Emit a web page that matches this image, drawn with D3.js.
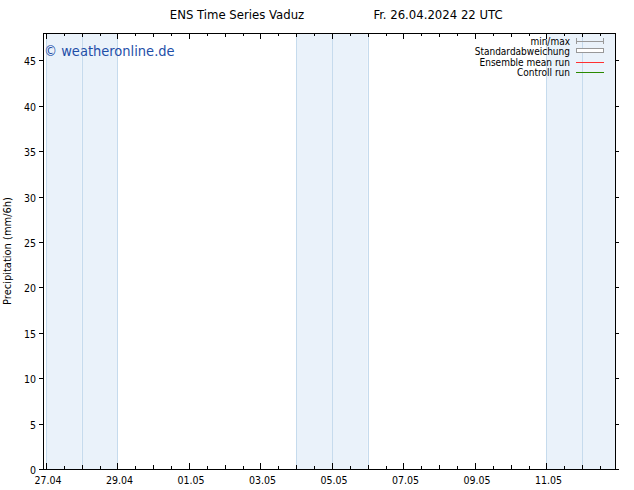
<!DOCTYPE html>
<html><head><meta charset="utf-8">
<script src="https://cdn.jsdelivr.net/npm/d3@7"></script>
<style>
body{margin:0;background:#fff;}
text{font-family:"DejaVu Sans Condensed","DejaVu Sans",sans-serif;}
</style></head>
<body><svg id="c" width="634" height="490"></svg>
<script>
const title = "ENS Time Series Vaduz";
const runTime = "Fr. 26.04.2024 22 UTC";
const yLabel = "Precipitation (mm/6h)";
const startTime = "2024-04-26T22:00";
const endTime = "2024-05-12T22:00";
const xTickLabels = ["27.04","29.04","01.05","03.05","05.05","07.05","09.05","11.05"];
const xTickDates = ["2024-04-27","2024-04-29","2024-05-01","2024-05-03","2024-05-05","2024-05-07","2024-05-09","2024-05-11"];
const yTicks = [0,5,10,15,20,25,30,35,40,45];
const weekendStarts = ["2024-04-27","2024-04-28","2024-05-04","2024-05-05","2024-05-11","2024-05-12"];
const legendLabels = ["min/max","Standardabweichung","Ensemble mean run","Controll run"];
const ensembleMean = [];
const controlRun = [];

const svg = d3.select("#c");
const m = {l:43, r:615, t:33, b:469};
const parse = d3.utcParse("%Y-%m-%dT%H:%M");
const pd = d3.utcParse("%Y-%m-%d");
const x = d3.scaleUtc().domain([parse(startTime), parse(endTime)]).range([m.l, m.r]);
const y = d3.scaleLinear().domain([0,48]).range([m.b, m.t]);

// weekend bands
const bandG = svg.append("g");
weekendStarts.forEach(s=>{
  const d0 = pd(s), d1 = d3.utcDay.offset(d0,1);
  const x0 = x(d0), x1 = Math.min(x(d1), m.r);
  bandG.append("rect").attr("x",x0).attr("y",m.t).attr("width",x1-x0).attr("height",m.b-m.t).attr("fill","#eaf2fa");
});
weekendStarts.forEach(s=>{
  const d0 = pd(s), d1 = d3.utcDay.offset(d0,1);
  [d0,d1].forEach(d=>{ const xx=x(d); if(xx<m.r-1) bandG.append("line").attr("x1",Math.round(xx)+0.5).attr("x2",Math.round(xx)+0.5).attr("y1",m.t).attr("y2",m.b).attr("stroke","#c6dbed").attr("stroke-width",1);});
});

// lines (no data)
const line = d3.line().x(d=>x(d[0])).y(d=>y(d[1]));
svg.append("path").datum(ensembleMean).attr("d",line).attr("fill","none").attr("stroke","#ff3030");
svg.append("path").datum(controlRun).attr("d",line).attr("fill","none").attr("stroke","#2a8a00");

// frame
svg.append("rect").attr("x",m.l+0.5).attr("y",m.t+0.5).attr("width",m.r-m.l).attr("height",m.b-m.t).attr("fill","none").attr("stroke","#000");

// x ticks
const halfDays = d3.utcHour.every(12).range(x.domain()[0], x.domain()[1]);
const majorSet = new Set(xTickDates.map(s=>+pd(s)));
const tg = svg.append("g").attr("stroke","#000");
halfDays.forEach(d=>{
  const xx = Math.round(x(d))+0.5;
  const isMaj = majorSet.has(+d);
  const isDay = d.getUTCHours()===0;
  const len = isMaj?6:(isDay?4:3);
  tg.append("line").attr("x1",xx).attr("x2",xx).attr("y1",m.b).attr("y2",m.b-len);
  tg.append("line").attr("x1",xx).attr("x2",xx).attr("y1",m.t).attr("y2",m.t+len);
});
xTickDates.forEach((s,i)=>{
  svg.append("text").attr("x",x(pd(s))+2).attr("y",484).attr("text-anchor","middle").attr("font-size",10.5).attr("fill","#000").text(xTickLabels[i]);
});

// y ticks
yTicks.forEach(v=>{
  const yy = Math.round(y(v))+0.5;
  svg.append("line").attr("x1",m.l-4).attr("x2",m.l).attr("y1",yy).attr("y2",yy).attr("stroke","#000");
  svg.append("line").attr("x1",m.r).attr("x2",m.r+4).attr("y1",yy).attr("y2",yy).attr("stroke","#000");
  svg.append("text").attr("x",m.l-7).attr("y",yy+4).attr("text-anchor","end").attr("font-size",10.5).attr("fill","#000").text(v);
});

// y label
svg.append("text").attr("transform","translate(11,251) rotate(-90)").attr("text-anchor","middle").attr("font-size",11).attr("fill","#000").text(yLabel);

// titles
svg.append("text").attr("x",237).attr("y",19).attr("text-anchor","middle").attr("font-size",13).attr("fill","#000").text(title);
svg.append("text").attr("x",438).attr("y",19).attr("text-anchor","middle").attr("font-size",13).attr("fill","#000").text(runTime);

// watermark
svg.append("text").attr("x",44).attr("y",56).attr("font-size",14.5).attr("fill","#1f4fa8").text("© weatheronline.de");

// legend
const ly = [41,51,62,72];
legendLabels.forEach((t,i)=>{
  svg.append("text").attr("x",570).attr("y",ly[i]+3.5).attr("text-anchor","end").attr("font-size",10).attr("fill","#000").text(t);
});
const lx0=576, lx1=604;
svg.append("line").attr("x1",lx0).attr("x2",lx1).attr("y1",ly[0]+0.5).attr("y2",ly[0]+0.5).attr("stroke","#999");
svg.append("line").attr("x1",lx0+0.5).attr("x2",lx0+0.5).attr("y1",ly[0]-3).attr("y2",ly[0]+3).attr("stroke","#999");
svg.append("line").attr("x1",lx1-0.5).attr("x2",lx1-0.5).attr("y1",ly[0]-3).attr("y2",ly[0]+3).attr("stroke","#999");
svg.append("rect").attr("x",lx0+0.5).attr("y",ly[1]-2.5).attr("width",lx1-lx0-1).attr("height",4).attr("fill","#fff").attr("stroke","#999");
svg.append("line").attr("x1",lx0).attr("x2",lx1).attr("y1",ly[2]+0.5).attr("y2",ly[2]+0.5).attr("stroke","#ff3030");
svg.append("line").attr("x1",lx0).attr("x2",lx1).attr("y1",ly[3]+0.5).attr("y2",ly[3]+0.5).attr("stroke","#2a8a00");
</script></body></html>
